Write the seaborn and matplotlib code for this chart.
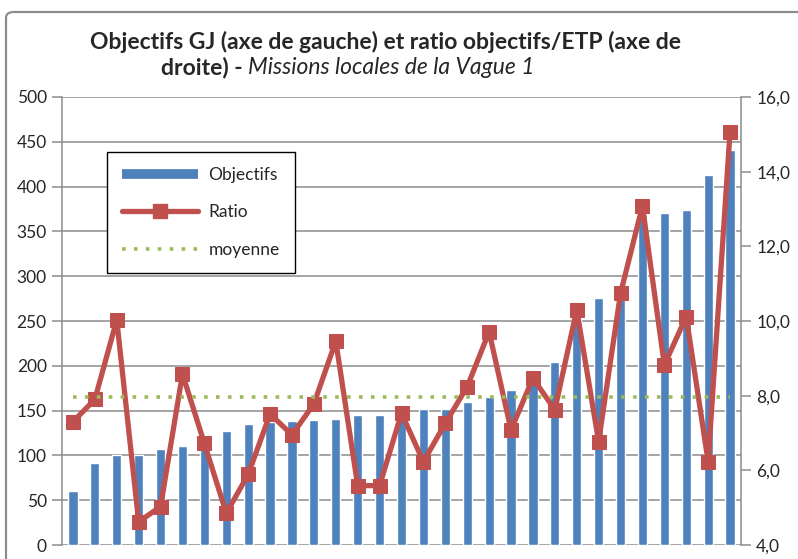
import matplotlib
matplotlib.use("Agg")

import matplotlib.pyplot as plt
import pandas as pd
import seaborn as sns
from matplotlib.lines import Line2D
from matplotlib.patches import FancyBboxPatch
from matplotlib.ticker import FuncFormatter, MultipleLocator

# Objectifs GJ par mission locale (axe de gauche)
objectifs = [60, 91, 100, 100, 107, 110, 117, 127, 135, 137, 138, 140, 141, 145, 145, 150,
             152, 152, 160, 165, 173, 180, 204, 252, 276, 285, 368, 371, 374, 413, 441]
# ratio objectifs / ETP (axe de droite)
ratio = [7.30, 7.90, 10.03, 4.62, 5.03, 8.58, 6.72, 4.85, 5.89, 7.51, 6.95, 7.78, 9.46, 5.59, 5.59, 7.53,
         6.23, 7.26, 8.24, 9.71, 7.08, 8.47, 7.62, 10.30, 6.77, 10.74, 13.08, 8.82, 10.12, 6.23, 15.07]
moyenne = 7.97

W, H = 798, 559
BLUE = "#4F81BD"
RED = "#C0504D"
GREEN = "#9BBB59"
GRID = "#8C8C8C"

df = pd.DataFrame({"ml": range(len(objectifs)), "objectifs": objectifs, "ratio": ratio})

sns.set_style("white")
plt.rcParams["font.family"] = ["Lato", "DejaVu Sans"]

fig = plt.figure(figsize=(W / 100, H / 100), dpi=100)
ax = fig.add_axes([62 / W, 1 - 545 / H, (741 - 62) / W, (545 - 97) / H])

sns.barplot(data=df, x="ml", y="objectifs", color=BLUE, saturation=1, width=0.42, ax=ax, zorder=2)
ax.set_ylim(0, 500)
ax.set_xlim(-0.5, len(objectifs) - 0.5)
ax.yaxis.set_major_locator(MultipleLocator(50))
ax.set_xticks([])
ax.set_xlabel("")
ax.set_ylabel("")
ax.grid(axis="y", color=GRID, lw=1.1, zorder=0)
ax.set_axisbelow(True)
for s in ["top", "right", "bottom"]:
    ax.spines[s].set_visible(False)
ax.spines["left"].set_color(GRID)
ax.spines["left"].set_linewidth(1.1)
ax.tick_params(axis="y", direction="out", length=7, width=1.1, color=GRID, labelsize=12.5, pad=4)

ax2 = ax.twinx()
sns.lineplot(data=df, x="ml", y="ratio", color=RED, lw=3.8, marker="s", markersize=10,
             markeredgecolor=RED, ax=ax2)
ax2.plot(df["ml"], [moyenne] * len(df), ls=(0, (1, 2.3)), color=GREEN, lw=2.6)
ax2.set_ylim(4, 16)
ax2.set_xlim(-0.5, len(objectifs) - 0.5)
ax2.yaxis.set_major_locator(MultipleLocator(2))
ax2.yaxis.set_major_formatter(FuncFormatter(lambda v, p: f"{v:.1f}".replace(".", ",")))
ax2.set_xlabel("")
ax2.set_ylabel("")
for s in ["top", "left", "bottom"]:
    ax2.spines[s].set_visible(False)
ax2.spines["right"].set_color(GRID)
ax2.spines["right"].set_linewidth(1.1)
ax2.tick_params(axis="y", direction="out", length=7, width=1.1, color=GRID, labelsize=12.5, pad=4)

handles = [
    Line2D([], [], color=BLUE, lw=7, solid_capstyle="butt"),
    Line2D([], [], color=RED, lw=3.8, marker="s", markersize=10),
    Line2D([], [], color=GREEN, lw=2.6, ls=(0, (1, 2.3))),
]
leg = ax2.legend(handles, ["Objectifs", "Ratio", "moyenne"], loc="upper left",
                 bbox_to_anchor=(45 / 679, 1 - 55 / 448), borderaxespad=0, fancybox=False,
                 framealpha=1, edgecolor="black", fontsize=12.5, handlelength=4.4,
                 labelspacing=1.25, borderpad=0.85, handletextpad=0.6)
leg.get_frame().set_linewidth(1.0)

# cadre gris du graphique
fig.patches.append(FancyBboxPatch((6 / W, -0.05), 1.2, 1.05 - 12 / H, transform=fig.transFigure,
                                  boxstyle="round,pad=0,rounding_size=0.01", fill=False,
                                  edgecolor="#8C8C8C", lw=1.6))

# titre
fig.text(386 / W, 1 - 42 / H, "Objectifs GJ (axe de gauche) et ratio objectifs/ETP (axe de",
         ha="center", va="center", fontsize=16.5, fontweight="bold")
r = fig.canvas.get_renderer()
t1 = fig.text(0, 1 - 68 / H, "droite) - ", ha="left", va="center", fontsize=16.5, fontweight="bold")
t2 = fig.text(0, 1 - 68 / H, "Missions locales de la Vague 1", ha="left", va="center",
              fontsize=16.5, fontstyle="italic")
w1 = t1.get_window_extent(r).width
w2 = t2.get_window_extent(r).width
x0 = 348 - (w1 + w2) / 2
t1.set_x(x0 / W)
t2.set_x((x0 + w1) / W)

fig.savefig("out.png", dpi=100)
